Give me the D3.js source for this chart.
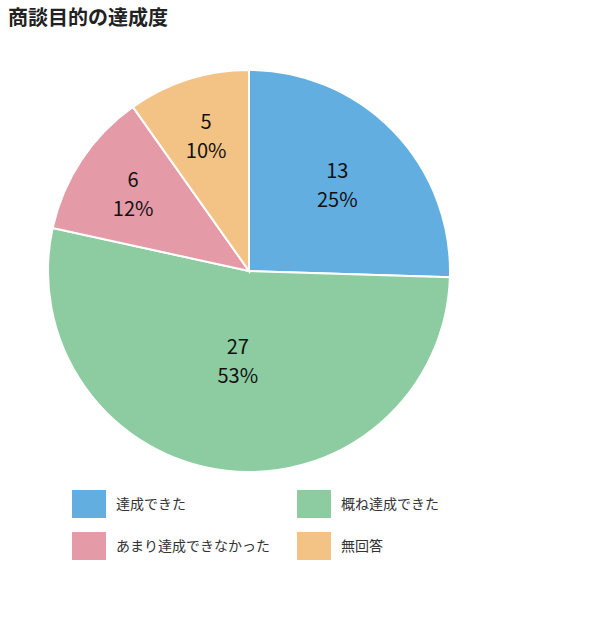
<!DOCTYPE html>
<html><head><meta charset="utf-8">
<script src="https://cdn.jsdelivr.net/npm/d3@7"></script>
<style>
body{margin:0;background:#fff;}
</style></head>
<body><svg id="chart" width="600" height="627"></svg>
<script>
const title = "商談目的の達成度";
const categories = ["達成できた","概ね達成できた","あまり達成できなかった","無回答"];
const values = [13, 27, 6, 5];
const colors = ["#63aee0","#8dcba1","#e49ba7","#f2c385"];

const svg = d3.select("#chart");
const font = "'Noto Sans CJK JP','Noto Sans',sans-serif";
svg.append("text").attr("x",8).attr("y",25).attr("font-family",font)
  .attr("font-weight","bold").attr("font-size",20).attr("fill","#222").text(title);

const cx = 249, cy = 271, R = 201;
const total = d3.sum(values);
const pie = d3.pie().sort(null).value(d=>d)(values);
const arc = d3.arc().innerRadius(0).outerRadius(R);
const g = svg.append("g").attr("transform",`translate(${cx},${cy})`);
g.selectAll("path").data(pie).join("path").attr("d",arc)
  .attr("fill",(d,i)=>colors[i]).attr("stroke","#fff").attr("stroke-width",2);

const lab = g.selectAll("g.lab").data(pie).join("g").attr("class","lab")
  .attr("transform",d=>{
    const frac = d.value/total;
    const r = R*(0.76 - 0.58*frac);
    const a = (d.startAngle+d.endAngle)/2;
    return `translate(${Math.sin(a)*r},${-Math.cos(a)*r})`;
  });
lab.append("text").attr("text-anchor","middle").attr("y",-7)
  .attr("font-family",font).attr("font-size",20).attr("fill","#111").text(d=>d.value);
lab.append("text").attr("text-anchor","middle").attr("y",22)
  .attr("font-family",font).attr("font-size",20).attr("fill","#111")
  .text(d=>Math.round(d.value/total*100)+"%");

const legendX = d3.scaleOrdinal().domain([0,1]).range([72,297]);
const legendY = d3.scaleOrdinal().domain([0,1]).range([490,532]);
const lg = svg.selectAll("g.leg").data(categories).join("g").attr("class","leg")
  .attr("transform",(d,i)=>`translate(${legendX(i%2)},${legendY(Math.floor(i/2))})`);
lg.append("rect").attr("width",34).attr("height",28).attr("fill",(d,i)=>colors[i]);
lg.append("text").attr("x",44).attr("y",19).attr("font-family",font)
  .attr("font-size",14).attr("fill","#333").text(d=>d);
</script></body></html>
